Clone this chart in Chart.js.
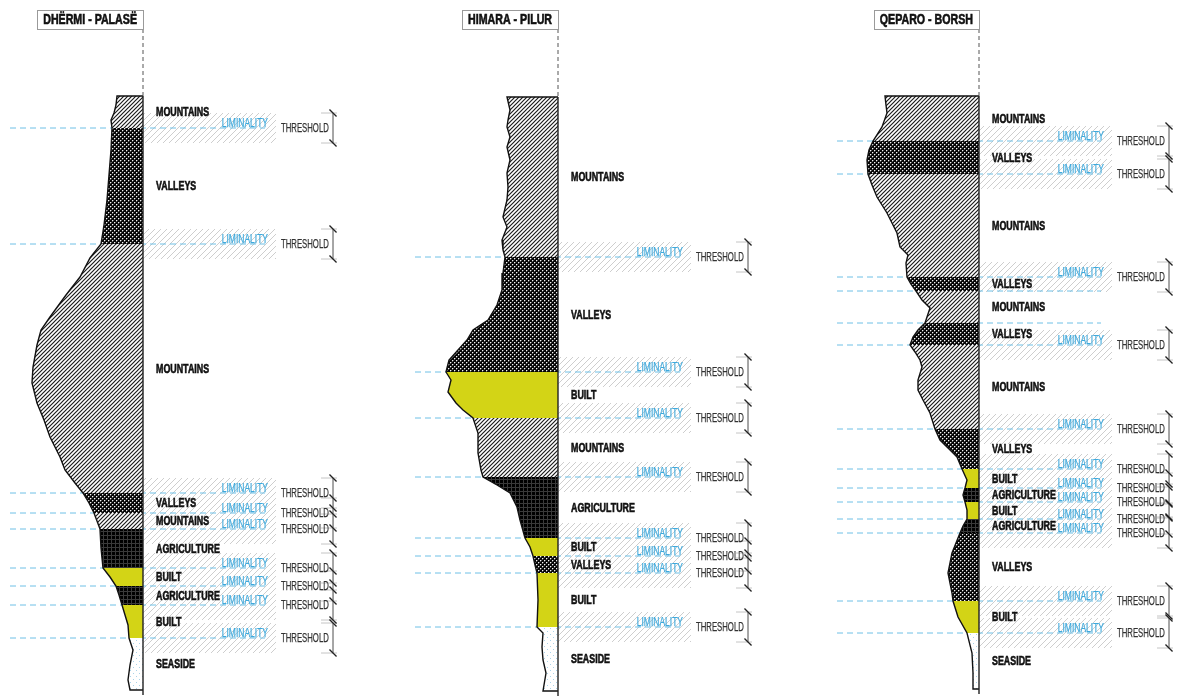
<!DOCTYPE html>
<html><head><meta charset="utf-8">
<script src="https://cdn.jsdelivr.net/npm/chart.js@4.4.1/dist/chart.umd.min.js"></script>
<style>html,body{margin:0;padding:0;background:#fff;}#wrap{position:relative;width:1181px;height:697px;}</style>
</head><body><div id="wrap"><canvas id="c"></canvas></div>
<script>
// ---------------- DATA ----------------
const titles = ['DHËRMI - PALASË', 'HIMARA - PILUR', 'QEPARO - BORSH'];
const liminalityLabel = 'LIMINALITY';
const thresholdLabel = 'THRESHOLD';

// Panel 1 : DHËRMI - PALASË
const p1Bounds = [96,128,244,493,513,529,568,586,605,638,690];
const p1Bands = ['MOUNTAINS','VALLEYS','MOUNTAINS','VALLEYS','MOUNTAINS','AGRICULTURE','BUILT','AGRICULTURE','BUILT','SEASIDE'];
const p1Thresholds = [128,244,493,513,529,568,586,605,638];
const p1Depth = [96,105,113,120,128,150,175,200,225,244,258,277,295,317,330,345,367,383,403,420,437,457,470,483,493,503,513,521,529,548,568,577,586,595,605,615,625,638,650,665,680,690];
const p1Width = [26,27,29,32,31,32,34,36,39,42,53,63,77,93,102,106,110,111,106,99,93,83,78,68,60,54,49,46,43,42,40,33,27,24,21,18,15,14,10,13,15,13];

// Panel 2 : HIMARA - PILUR
const p2Bounds = [97,257,372,418,477,538,556,573,627,691];
const p2Bands = ['MOUNTAINS','VALLEYS','BUILT','MOUNTAINS','AGRICULTURE','BUILT','VALLEYS','BUILT','SEASIDE'];
const p2Thresholds = [257,372,418,477,538,556,573,627];
const p2Depth = [97,110,120,127,137,147,160,173,187,200,217,227,240,250,257,273,290,305,320,330,340,350,360,372,380,392,403,410,418,433,453,470,477,485,493,507,520,538,547,556,565,573,600,627,633,647,660,673,691];
const p2Width = [51,48,50,51,48,51,48,51,50,51,55,51,56,55,53,55,56,61,70,85,91,100,109,112,107,110,102,95,85,80,80,77,75,61,48,41,38,33,28,25,23,21,20,21,15,16,15,12,15];

// Panel 3 : QEPARO - BORSH
const p3Bounds = [96,141,174,277,291,323,345,429,469,488,502,519,533,601,633,689];
const p3Bands = ['MOUNTAINS','VALLEYS','MOUNTAINS','VALLEYS','MOUNTAINS','VALLEYS','MOUNTAINS','VALLEYS','BUILT','AGRICULTURE','BUILT','AGRICULTURE','VALLEYS','BUILT','SEASIDE'];
const p3Thresholds = [141,174,277,345,429,469,488,502,519,533,601,633];
const p3Depth = [96,105,113,127,141,150,160,174,185,197,213,233,247,255,263,277,284,291,300,308,317,323,330,337,345,352,360,367,380,390,400,413,429,440,448,457,469,480,488,495,502,510,519,526,533,553,573,593,601,617,633,653,673,689];
const p3Width = [94,93,92,97,106,110,112,111,107,102,92,82,79,71,73,72,68,63,57,49,52,54,61,66,69,64,59,57,61,61,56,49,44,39,31,22,17,12,14,16,14,12,12,16,19,27,31,27,26,21,12,7,6,6];

// ---------------- LAYOUT / STYLE ----------------
const lineX = [143, 558, 979];
const dashLeft = [133, 143, 142];
const DASH_RIGHT = 122, HATCH_R = 133, BOX_R = 190, HALF = 15;
const TITLE_TOP = 10, TITLE_BOT = 29;

function mkPat(size, fn){
  const c = document.createElement('canvas'); c.width = size; c.height = size;
  const g = c.getContext('2d'); fn(g, size); return g.createPattern(c, 'repeat');
}
const patMountains = mkPat(4, (g,s)=>{
  g.fillStyle='#fff'; g.fillRect(0,0,s,s);
  g.strokeStyle='#1c1c1c'; g.lineWidth=1.2; g.beginPath();
  g.moveTo(-1,s+1); g.lineTo(s+1,-1); g.moveTo(-1,1); g.lineTo(1,-1); g.moveTo(s-1,s+1); g.lineTo(s+1,s-1); g.stroke();
});
const patValleys = mkPat(4, (g,s)=>{
  g.fillStyle='#060606'; g.fillRect(0,0,s,s);
  g.fillStyle='#5a5a5a';
  g.fillRect(1,0,1,1); g.fillRect(0,1,1,1); g.fillRect(3,2,1,1); g.fillRect(2,3,1,1);
  g.fillStyle='#f4f4f4'; g.fillRect(0,0,1,1); g.fillRect(2,2,1,1);
});
const patAgri = mkPat(4, (g,s)=>{
  g.fillStyle='#000'; g.fillRect(0,0,s,s);
  g.fillStyle='#3a3a3a'; g.fillRect(3,0,1,s); g.fillRect(0,3,s,1);
});
const patSea = mkPat(6, (g,s)=>{
  g.fillStyle='#fff'; g.fillRect(0,0,s,s);
  g.fillStyle='#a9d3ea'; g.fillRect(1,1,1,1); g.fillRect(4,4,1,1);
});
const patThr = mkPat(6, (g,s)=>{
  g.fillStyle='#fff'; g.fillRect(0,0,s,s);
  g.strokeStyle='#c8c8c8'; g.lineWidth=0.9; g.beginPath();
  g.moveTo(-1,s+1); g.lineTo(s+1,-1); g.moveTo(-1,1); g.lineTo(1,-1); g.moveTo(s-1,s+1); g.lineTo(s+1,s-1); g.stroke();
});
const fills = {MOUNTAINS: patMountains, VALLEYS: patValleys, AGRICULTURE: patAgri, BUILT: '#d3d416', SEASIDE: patSea};

const panels = [
  {title: titles[0], bounds: p1Bounds, bands: p1Bands, thr: p1Thresholds, depth: p1Depth, width: p1Width},
  {title: titles[1], bounds: p2Bounds, bands: p2Bands, thr: p2Thresholds, depth: p2Depth, width: p2Width},
  {title: titles[2], bounds: p3Bounds, bands: p3Bands, thr: p3Thresholds, depth: p3Depth, width: p3Width}
];

const NONE = 'rgba(0,0,0,0)';
function seg(data, opts){
  return Object.assign({type:'line', data, pointRadius:0, borderWidth:1, borderColor:'#000', backgroundColor:NONE, fill:false, tension:0}, opts);
}

const datasets = [];
panels.forEach((p, k) => {
  const L = lineX[k];
  const prof = p.depth.map((d, i) => ({x: L - p.width[i], y: d}));
  const top = p.bounds[0], bot = p.bounds[p.bounds.length - 1];
  // threshold boxes
  p.thr.forEach(t => {
    datasets.push(seg([{x:L+HATCH_R, y:t-HALF}, {x:L+HATCH_R, y:t+HALF}], {fill:{value:L}, backgroundColor:patThr, borderWidth:0, borderColor:NONE, order:100}));
    datasets.push(seg([{x:L+BOX_R, y:t-HALF}, {x:L+BOX_R, y:t+HALF}], {fill:{value:L+HATCH_R}, backgroundColor:'#fff', borderWidth:1, borderColor:'#9a9a9a', order:95}));
  });
  // liminality dashed lines
  p.bounds.slice(1, -1).forEach(b => {
    datasets.push(seg([{x:L-dashLeft[k], y:b}, {x:L+DASH_RIGHT, y:b}], {borderColor:'#6fc0e6', borderDash:[6,4], borderWidth:1, order:80}));
  });
  // bands
  p.bands.forEach((name, i) => {
    const t0 = p.bounds[i], t1 = p.bounds[i+1];
    const pts = prof.filter(q => q.y >= t0 && q.y <= t1);
    datasets.push(seg(pts, {fill:{value:L}, backgroundColor:fills[name], borderWidth:0, borderColor:NONE, order:50}));
  });
  // outline
  datasets.push(seg([{x:L, y:top}, ...prof, {x:L, y:bot}], {borderColor:'#111', borderWidth:1.4, order:40}));
  // axis line
  datasets.push(seg([{x:L, y:TITLE_BOT}, {x:L, y:top}], {borderColor:'#555', borderDash:[4,3], borderWidth:1, order:30}));
  datasets.push(seg([{x:L, y:top}, {x:L, y:bot+5}], {borderColor:'#222', borderWidth:1.4, order:30}));
  // bracket serifs and ticks
  const ends = [];
  p.thr.forEach(t => { ends.push({x:L+BOX_R, y:t-HALF}); ends.push({x:L+BOX_R, y:t+HALF}); });
  datasets.push(seg(ends.map(e => ({x:e.x-4, y:e.y})), {showLine:false, pointStyle:'line', pointRadius:8, pointRotation:0, pointBorderColor:'#c4c4c4', pointBorderWidth:1, borderWidth:1, order:22}));
  datasets.push(seg(ends, {showLine:false, pointStyle:'line', pointRadius:5, pointRotation:45, pointBorderColor:'#222', pointBorderWidth:1.3, borderWidth:1, order:20}));
});

function drawText(ctx, s, px, py, font, color, sx, align, base, stroke){
  ctx.save(); ctx.font = font; ctx.fillStyle = color; ctx.textAlign = align; ctx.textBaseline = base;
  ctx.translate(px, py); ctx.scale(sx, 1); ctx.fillText(s, 0, 0);
  if (stroke) { ctx.strokeStyle = color; ctx.lineWidth = stroke; ctx.strokeText(s, 0, 0); }
  ctx.restore();
}
const FONT = '"Liberation Sans", Arial, sans-serif';

const textPlugin = {
  id: 'diagramText',
  afterDatasetsDraw(chart){
    const {ctx, scales:{x, y}} = chart;
    panels.forEach((p, k) => {
      const L = lineX[k];
      // title box
      ctx.save();
      ctx.font = 'bold 14px ' + FONT;
      const tw = ctx.measureText(p.title).width * 0.76;
      const xr = x.getPixelForValue(L), y0 = y.getPixelForValue(TITLE_TOP), y1 = y.getPixelForValue(TITLE_BOT);
      const xl = xr - tw - 12;
      ctx.fillStyle = '#fff'; ctx.fillRect(xl, y0, xr - xl, y1 - y0);
      ctx.strokeStyle = '#9a9a9a'; ctx.lineWidth = 1; ctx.strokeRect(Math.round(xl)+0.5, Math.round(y0)+0.5, Math.round(xr - xl), Math.round(y1 - y0));
      ctx.restore();
      drawText(ctx, p.title, xr - 6, (y0 + y1)/2 + 1, 'bold 14px ' + FONT, '#111', 0.76, 'right', 'middle', 0.6);
      // band labels
      p.bands.forEach((name, i) => {
        const mid = (p.bounds[i] + p.bounds[i+1]) / 2 + 1;
        drawText(ctx, name, x.getPixelForValue(L + 13), y.getPixelForValue(mid), 'bold 12.5px ' + FONT, '#111', 0.71, 'left', 'middle', 0.6);
      });
      // liminality / threshold
      p.thr.forEach(t => {
        drawText(ctx, liminalityLabel, x.getPixelForValue(L + 125), y.getPixelForValue(t - 1.5), '12.5px ' + FONT, '#3fa9dc', 0.68, 'right', 'alphabetic', 0.25);
        drawText(ctx, thresholdLabel, x.getPixelForValue(L + 138), y.getPixelForValue(t + 0.5), '12.5px ' + FONT, '#333', 0.62, 'left', 'middle', 0.25);
      });
    });
  }
};

new Chart(document.getElementById('c'), {
  type: 'line',
  data: { datasets },
  options: {
    indexAxis: 'y',
    responsive: true,
    maintainAspectRatio: false,
    animation: false,
    events: [],
    layout: { padding: 0, autoPadding: false },
    plugins: { legend: {display:false}, tooltip: {enabled:false}, title: {display:false} },
    scales: {
      x: { type:'linear', min:0, max:1181, display:false },
      y: { type:'linear', min:0, max:697, reverse:true, display:false }
    }
  },
  plugins: [textPlugin]
});
</script>
</body></html>
